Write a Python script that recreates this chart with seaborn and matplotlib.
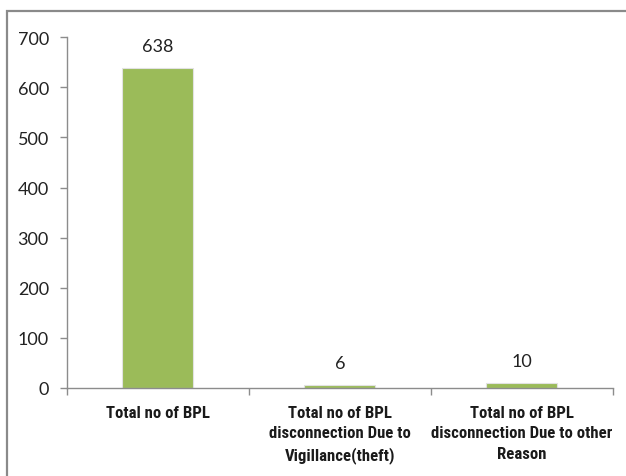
import matplotlib
matplotlib.use("Agg")
import matplotlib.pyplot as plt
from matplotlib import font_manager
from matplotlib.patches import Rectangle
import seaborn as sns
import pandas as pd

categories = [
    "Total no of BPL",
    "Total no of BPL\ndisconnection Due to\nVigillance(theft)",
    "Total no of BPL\ndisconnection Due to other\nReason",
]
values = [638, 6, 10]
yticks = [0, 100, 200, 300, 400, 500, 600, 700]

sns.set_theme(style="white")
plt.rcParams["font.family"] = ["Lato", "DejaVu Sans"]

# narrow face for the long category labels
installed = {f.name for f in font_manager.fontManager.ttflist}
label_font = "Roboto Condensed" if "Roboto Condensed" in installed else "Lato"

df = pd.DataFrame({"category": categories, "value": values})

fig = plt.figure(figsize=(6.26, 4.77), dpi=100)
ax = fig.add_axes([0.107, 0.1845, 0.872, 0.7355])

sns.barplot(data=df, x="category", y="value", color="#9BBB59",
            saturation=1, width=0.39, ax=ax, edgecolor="#e2e2e2", linewidth=0.8)

ax.set_ylim(0, 700)
ax.set_yticks(yticks)
ax.set_xlim(-0.5, len(categories) - 0.5)
ax.set_xlabel("")
ax.set_ylabel("")

for i, v in enumerate(values):
    ax.annotate(str(v), (i, v), xytext=(0, 10), textcoords="offset points",
                ha="center", va="bottom", fontsize=13, color="#222222")

for s in ["top", "right"]:
    ax.spines[s].set_visible(False)
for s in ["left", "bottom"]:
    ax.spines[s].set_color("#8c8c8c")
    ax.spines[s].set_linewidth(1.0)

ax.tick_params(axis="y", which="both", left=True, length=5, width=1,
               color="#8c8c8c", labelsize=13, labelcolor="#222222", pad=8)

ax.set_xticks([0, 1, 2])
labels = ax.set_xticklabels(categories, fontsize=10.5, fontweight="bold",
                            family=[label_font, "DejaVu Sans"],
                            color="#1a1a1a", linespacing=1.5, va="top")
ax.tick_params(axis="x", which="major", bottom=False, pad=6)
# tick marks sit on the category boundaries
ax.set_xticks([-0.5, 0.5, 1.5, 2.5], minor=True)
ax.tick_params(axis="x", which="minor", bottom=True, length=5, width=1,
               color="#8c8c8c")

# size the category labels so the first one spans about 104 px,
# with baselines roughly 22 px apart
fig.canvas.draw()
renderer = fig.canvas.get_renderer()
w = labels[0].get_window_extent(renderer).width
new_size = 10.5 * 104.0 / w
px = new_size * 100 / 72
for lab in labels:
    lab.set_fontsize(new_size)
    lab.set_linespacing(22.5 / (px * 0.92))

# chart-area border
fig.patches.append(Rectangle((7 / 626, -0.1), 1.2, 1.1 - 12 / 477,
                             transform=fig.transFigure, fill=False,
                             edgecolor="#8a8a8a", linewidth=1.6, zorder=0))

fig.savefig("out.png", dpi=100)
